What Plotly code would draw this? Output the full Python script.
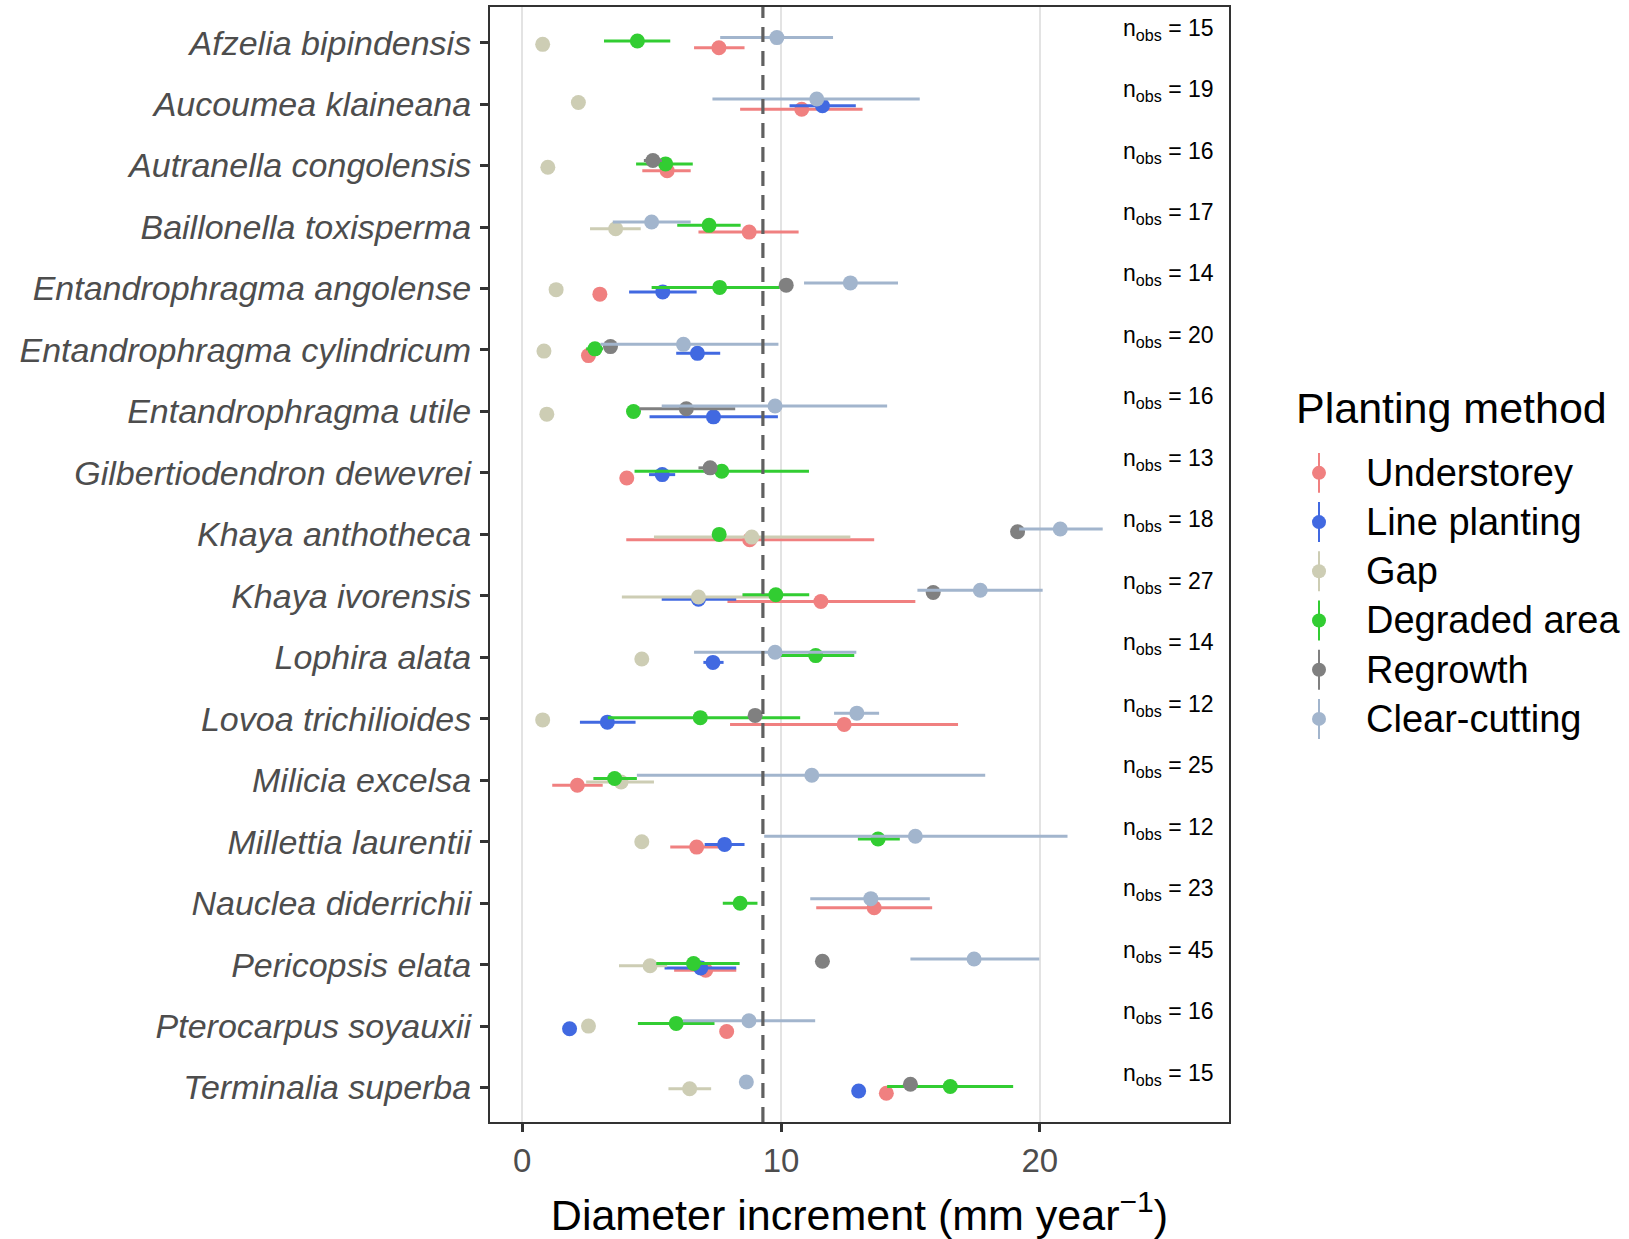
import plotly.graph_objects as go

# ---------------- data ----------------
species = [
    "Afzelia bipindensis", "Aucoumea klaineana", "Autranella congolensis",
    "Baillonella toxisperma", "Entandrophragma angolense", "Entandrophragma cylindricum",
    "Entandrophragma utile", "Gilbertiodendron dewevrei", "Khaya anthotheca",
    "Khaya ivorensis", "Lophira alata", "Lovoa trichilioides", "Milicia excelsa",
    "Millettia laurentii", "Nauclea diderrichii", "Pericopsis elata",
    "Pterocarpus soyauxii", "Terminalia superba",
]
n_obs = [15, 19, 16, 17, 14, 20, 16, 13, 18, 27, 14, 12, 25, 12, 23, 45, 16, 15]

methods = ["Understorey", "Line planting", "Gap", "Degraded area", "Regrowth", "Clear-cutting"]
colors = ["#F08080", "#4169E1", "#CDCDB4", "#32CD32", "#808080", "#A2B5CD"]

N = None
understorey_mean = [7.60, 10.80, 5.60, 8.77, 3.00, 2.56, N, 4.04, 8.79, 11.54, N, 12.44, 2.13, 6.74, 13.60, 7.09, 7.90, 14.07]
understorey_lo   = [6.64, 8.42, 4.64, 6.81, N, N, N, 3.78, 4.02, 7.93, N, 8.03, 1.16, 5.72, 11.36, 5.87, N, N]
understorey_hi   = [8.59, 13.15, 6.51, 10.68, N, N, N, 4.30, 13.60, 15.19, N, 16.84, 3.11, 7.63, 15.84, 8.27, N, N]

line_mean = [N, 11.60, N, N, 5.43, 6.77, 7.39, 5.41, N, 6.81, 7.37, 3.29, N, 7.82, N, 6.90, 1.83, 13.00]
line_lo   = [N, 10.33, N, N, 4.13, 5.95, 4.92, 4.90, N, 5.39, 7.00, 2.23, N, 7.05, N, 5.50, N, N]
line_hi   = [N, 12.89, N, N, 6.74, 7.65, 9.88, 5.91, N, 8.27, 7.78, 4.38, N, 8.59, N, 8.27, N, N]

gap_mean = [0.79, 2.17, 0.99, 3.61, 1.31, 0.84, 0.95, N, 8.87, 6.81, 4.62, 0.79, 3.82, 4.62, N, 4.94, 2.56, 6.47]
gap_lo   = [N, N, N, 2.62, N, N, N, N, 5.09, 3.85, N, N, 2.47, N, N, 3.74, N, 5.65]
gap_hi   = [N, N, N, 4.58, N, N, N, N, 12.68, 9.67, N, N, 5.09, N, N, 5.60, N, 7.30]

degraded_mean = [4.45, N, 5.54, 7.22, 7.63, 2.81, 4.30, 7.71, 7.61, 9.80, 11.34, 6.88, 3.57, 13.75, 8.42, 6.62, 5.95, 16.54]
degraded_lo   = [3.16, N, 4.40, 5.99, 5.00, 2.47, N, 4.34, N, 8.51, 9.97, 3.31, 2.75, 12.97, 7.75, 5.18, 4.47, 14.10]
degraded_hi   = [5.72, N, 6.59, 8.44, 9.95, 3.12, N, 11.08, N, 11.09, 12.83, 10.74, 4.43, 14.59, 9.09, 8.40, 7.43, 18.97]

regrowth_mean = [N, N, 5.05, N, 10.20, 3.41, 6.34, 7.26, 19.14, 15.88, N, 9.00, N, N, N, 11.60, N, 15.00]
regrowth_lo   = [N, N, 4.70, N, N, N, 4.53, 6.81, N, N, N, N, N, N, N, N, N, N]
regrowth_hi   = [N, N, 5.40, N, N, N, 8.23, 7.50, N, N, N, N, N, N, N, N, N, N]

clear_mean = [9.84, 11.38, N, 5.00, 12.68, 6.23, 9.77, N, 20.79, 17.70, 9.77, 12.93, 11.19, 15.19, 13.47, 17.46, 8.76, 8.66]
clear_lo   = [7.65, 7.35, N, 3.50, 10.89, 3.03, 5.39, N, 19.20, 15.27, 6.64, 12.05, 4.43, 9.35, 11.13, 15.00, 6.21, N]
clear_hi   = [12.01, 15.36, N, 6.51, 14.52, 9.90, 14.10, N, 22.43, 20.11, 12.91, 13.79, 17.89, 21.07, 15.75, 19.98, 11.32, N]

reference_line = 9.3  # dashed reference value

series = [
    (understorey_mean, understorey_lo, understorey_hi),
    (line_mean, line_lo, line_hi),
    (gap_mean, gap_lo, gap_hi),
    (degraded_mean, degraded_lo, degraded_hi),
    (regrowth_mean, regrowth_lo, regrowth_hi),
    (clear_mean, clear_lo, clear_hi),
]

# ---------------- layout constants ----------------
W, H = 1629, 1239
ML, MR, MT, MB = 490, 400, 5, 117
FONT = "Liberation Sans, Arial, sans-serif"
DODGE = 0.22
nsp = len(species)

def px2paper_x(px):
    return (px - ML) / (W - ML - MR)

def px2paper_y(py):
    return (H - MB - py) / (H - MT - MB)

# dodge offsets (only among groups present for each species)
present = [[k for k in range(len(methods)) if series[k][0][i] is not None] for i in range(nsp)]

fig = go.Figure()
for k, (mean, lo, hi) in enumerate(series):
    xs, ys, ep, em = [], [], [], []
    for i in range(nsp):
        if mean[i] is None:
            continue
        grp = present[i]
        n = len(grp)
        j = grp.index(k)
        off = -DODGE / 2 + DODGE / n * (j + 0.5)
        xs.append(mean[i])
        ys.append((nsp - 1 - i) + off)
        ep.append((hi[i] - mean[i]) if hi[i] is not None else 0)
        em.append((mean[i] - lo[i]) if lo[i] is not None else 0)
    fig.add_trace(go.Scatter(
        x=xs, y=ys, mode="markers", name=methods[k], showlegend=False,
        marker=dict(size=15, color=colors[k], line=dict(width=0)),
        error_x=dict(type="data", symmetric=False, array=ep, arrayminus=em,
                     thickness=3, width=0, color=colors[k]),
    ))

# dashed reference line
fig.add_shape(type="line", xref="x", yref="paper", x0=reference_line, x1=reference_line,
              y0=0, y1=1, line=dict(color="#606060", width=3.2, dash="15px,9px"), layer="above")

# n_obs annotations
for i in range(nsp):
    fig.add_annotation(x=26.8, y=(nsp - 1 - i) + 0.22, xref="x", yref="y",
                       text=f"n<sub>obs</sub> = {n_obs[i]}", showarrow=False,
                       xanchor="right", yanchor="middle",
                       font=dict(family=FONT, size=23, color="black"))

# manual legend
fig.add_annotation(x=px2paper_x(1294), y=px2paper_y(407), xref="paper", yref="paper",
                   text="Planting method", showarrow=False, xanchor="left", yanchor="middle",
                   font=dict(family=FONT, size=43, color="black"))
for k, m in enumerate(methods):
    cy = 471.7 + 49.3 * k
    fig.add_shape(type="line", xref="paper", yref="paper",
                  x0=px2paper_x(1319), x1=px2paper_x(1319),
                  y0=px2paper_y(cy - 20), y1=px2paper_y(cy + 20),
                  line=dict(color=colors[k], width=2))
    fig.add_shape(type="circle", xref="paper", yref="paper",
                  xsizemode="pixel", ysizemode="pixel",
                  xanchor=px2paper_x(1319), yanchor=px2paper_y(cy),
                  x0=-7, x1=7, y0=-7, y1=7,
                  fillcolor=colors[k], line=dict(width=0))
    fig.add_annotation(x=px2paper_x(1364), y=px2paper_y(cy), xref="paper", yref="paper",
                       text=m, showarrow=False, xanchor="left", yanchor="middle",
                       font=dict(family=FONT, size=38, color="black"))

fig.update_layout(
    width=W, height=H,
    margin=dict(l=ML, r=MR, t=MT, b=MB, pad=0),
    plot_bgcolor="white", paper_bgcolor="white",
    showlegend=False,
    font=dict(family=FONT),
    xaxis=dict(
        range=[-1.245, 27.31], tickvals=[0, 10, 20], ticktext=["0", "10", "20"],
        showgrid=True, gridcolor="#E3E3E3", gridwidth=1.5, zeroline=False,
        showline=True, mirror=True, linecolor="#333333", linewidth=2,
        ticks="outside", ticklen=8, tickwidth=2.5, tickcolor="#333333",
        tickfont=dict(family=FONT, size=33, color="#4D4D4D"),
        title=dict(text="Diameter increment (mm year<sup>\u22121</sup>)",
                   font=dict(family=FONT, size=43, color="black"), standoff=23),
    ),
    yaxis=dict(
        range=[-0.56, nsp - 1 + 0.58],
        tickvals=[nsp - 1 - i for i in range(nsp)],
        ticktext=[f"<i>{s}</i>" for s in species],
        showgrid=False, zeroline=False,
        showline=True, mirror=True, linecolor="#333333", linewidth=2,
        ticks="outside", ticklen=8, tickwidth=2.5, tickcolor="#333333",
        tickfont=dict(family=FONT, size=34, color="#4D4D4D"),
        ticklabelstandoff=2,
    ),
)

fig.write_html("out.html", config={"displayModeBar": False},
               post_script="document.body.style.margin='0';document.body.style.padding='0';")
